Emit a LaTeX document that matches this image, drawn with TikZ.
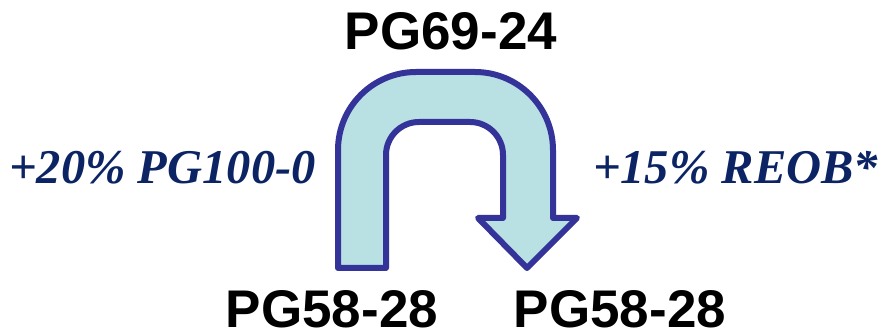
\documentclass[tikz,border=0pt]{standalone}
\usepackage{fontspec}
\setmainfont{Liberation Serif}
\newfontfamily\headfont{Liberation Sans}
\definecolor{arrowline}{RGB}{51,51,153}
\definecolor{arrowfill}{RGB}{185,224,227}
\definecolor{navytext}{RGB}{12,36,100}
\tikzset{
  gradelabel/.style={anchor=base, inner sep=0pt, font=\headfont\bfseries\fontsize{53}{60}\selectfont, text=black},
  addlabel/.style={anchor=base, inner sep=0pt, font=\bfseries\itshape\fontsize{48.5}{55}\selectfont, text=navytext},
  uturn/.style={draw=arrowline, fill=arrowfill, line width=6pt, line join=round}
}
\begin{document}
\begin{tikzpicture}[x=1pt,y=-1pt]
\useasboundingbox (0,0) rectangle (879,336);
\path[uturn] (338,268) -- (338,150) arc[start angle=180,end angle=270,radius=78]
  -- (475,72) arc[start angle=270,end angle=360,radius=78]
  -- (553,218) -- (577,218) -- (527,268) -- (478,218) -- (503,218)
  -- (503,155) arc[start angle=0,end angle=-90,radius=33]
  -- (419,122) arc[start angle=270,end angle=180,radius=33]
  -- (386,268) -- cycle;
\node[gradelabel] (top) at (451,50) {PG69-24};
\node[gradelabel] (botleft) at (332,328) {PG58-28};
\node[gradelabel] (botright) at (620,328) {PG58-28};
\node[addlabel] (left) at (162.5,184) {+20\% PG100-0};
\node[addlabel] (right) at (735.5,184) {+15\% REOB*};
\end{tikzpicture}
\end{document}
